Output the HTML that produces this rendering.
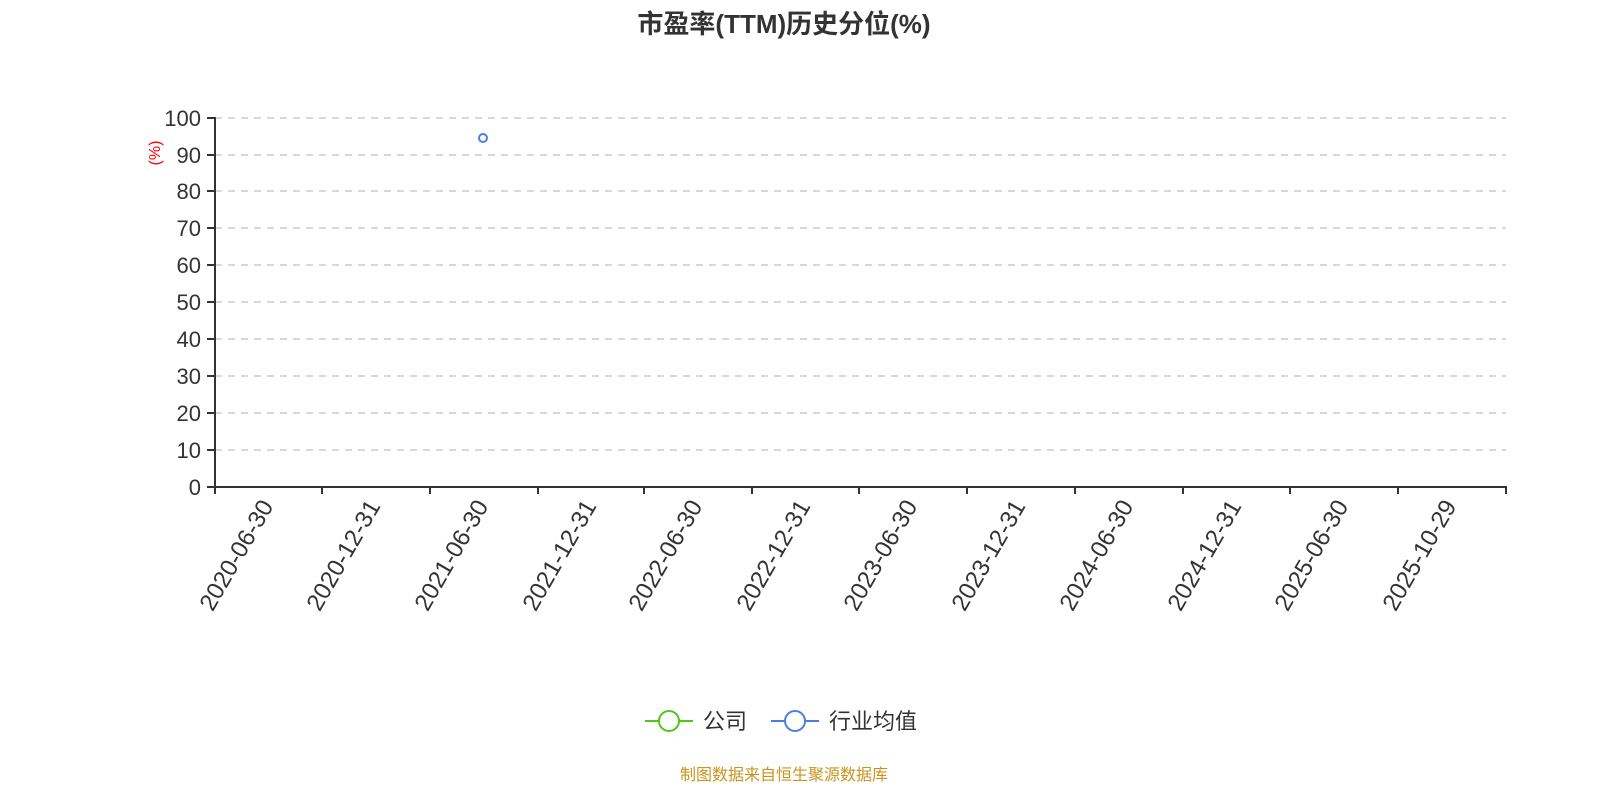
<!DOCTYPE html>
<html><head><meta charset="utf-8"><style>body{margin:0;background:#fff}svg{display:block}</style></head><body>
<svg width="1600" height="800" xmlns="http://www.w3.org/2000/svg" font-family="'Liberation Sans','Noto Sans CJK SC',sans-serif">
<text x="784" y="33" text-anchor="middle" font-size="26" font-weight="bold" fill="#333">市盈率(TTM)历史分位(%)</text>
<g stroke="#ccc" stroke-width="1.5" stroke-dasharray="7,6">
<line x1="215" x2="1506" y1="118" y2="118"/><line x1="215" x2="1506" y1="155" y2="155"/><line x1="215" x2="1506" y1="191" y2="191"/><line x1="215" x2="1506" y1="228" y2="228"/><line x1="215" x2="1506" y1="265" y2="265"/><line x1="215" x2="1506" y1="302" y2="302"/><line x1="215" x2="1506" y1="339" y2="339"/><line x1="215" x2="1506" y1="376" y2="376"/><line x1="215" x2="1506" y1="413" y2="413"/><line x1="215" x2="1506" y1="450" y2="450"/>
</g>
<g stroke="#333" stroke-width="2">
<line x1="215" y1="117" x2="215" y2="488"/><line x1="214" y1="487" x2="1507" y2="487"/>
<line x1="207" x2="215" y1="118" y2="118"/><line x1="207" x2="215" y1="155" y2="155"/><line x1="207" x2="215" y1="191" y2="191"/><line x1="207" x2="215" y1="228" y2="228"/><line x1="207" x2="215" y1="265" y2="265"/><line x1="207" x2="215" y1="302" y2="302"/><line x1="207" x2="215" y1="339" y2="339"/><line x1="207" x2="215" y1="376" y2="376"/><line x1="207" x2="215" y1="413" y2="413"/><line x1="207" x2="215" y1="450" y2="450"/><line x1="207" x2="215" y1="487" y2="487"/>
<line x1="215" x2="215" y1="487" y2="494"/><line x1="322" x2="322" y1="487" y2="494"/><line x1="430" x2="430" y1="487" y2="494"/><line x1="538" x2="538" y1="487" y2="494"/><line x1="644" x2="644" y1="487" y2="494"/><line x1="752" x2="752" y1="487" y2="494"/><line x1="859" x2="859" y1="487" y2="494"/><line x1="967" x2="967" y1="487" y2="494"/><line x1="1075" x2="1075" y1="487" y2="494"/><line x1="1183" x2="1183" y1="487" y2="494"/><line x1="1290" x2="1290" y1="487" y2="494"/><line x1="1398" x2="1398" y1="487" y2="494"/><line x1="1506" x2="1506" y1="487" y2="494"/>
</g>
<g font-size="22" fill="#333" text-anchor="end">
<text x="201" y="126">100</text><text x="201" y="163">90</text><text x="201" y="199">80</text><text x="201" y="236">70</text><text x="201" y="273">60</text><text x="201" y="310">50</text><text x="201" y="347">40</text><text x="201" y="384">30</text><text x="201" y="421">20</text><text x="201" y="458">10</text><text x="201" y="495">0</text>
</g>
<text transform="translate(160,153) rotate(-90)" text-anchor="middle" font-size="16" fill="#f00">(%)</text>
<g font-size="24" fill="#333" text-anchor="end">
<text transform="translate(274,506) rotate(-60)">2020-06-30</text>
<text transform="translate(381,506) rotate(-60)">2020-12-31</text>
<text transform="translate(489,506) rotate(-60)">2021-06-30</text>
<text transform="translate(597,506) rotate(-60)">2021-12-31</text>
<text transform="translate(703,506) rotate(-60)">2022-06-30</text>
<text transform="translate(811,506) rotate(-60)">2022-12-31</text>
<text transform="translate(918,506) rotate(-60)">2023-06-30</text>
<text transform="translate(1026,506) rotate(-60)">2023-12-31</text>
<text transform="translate(1134,506) rotate(-60)">2024-06-30</text>
<text transform="translate(1242,506) rotate(-60)">2024-12-31</text>
<text transform="translate(1349,506) rotate(-60)">2025-06-30</text>
<text transform="translate(1457,506) rotate(-60)">2025-10-29</text>
</g>
<circle cx="483" cy="138" r="4" fill="#fff" stroke="#4a7fe0" stroke-width="2"/>
<line x1="645" x2="693" y1="721" y2="721" stroke="#52c41a" stroke-width="2"/>
<circle cx="669" cy="721" r="10" fill="#fff" stroke="#52c41a" stroke-width="2"/>
<text x="703" y="729" font-size="22" fill="#333">公司</text>
<line x1="771" x2="819" y1="721" y2="721" stroke="#4a7fe0" stroke-width="2"/>
<circle cx="795" cy="721" r="10" fill="#fff" stroke="#4a7fe0" stroke-width="2"/>
<text x="829" y="729" font-size="22" fill="#333">行业均值</text>
<text x="784" y="780" text-anchor="middle" font-size="16" fill="#c8941e">制图数据来自恒生聚源数据库</text>
</svg>
</body></html>
